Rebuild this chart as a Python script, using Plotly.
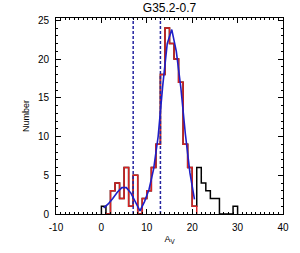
import plotly.graph_objects as go

# Histogram of A_V (bin width 1, starting at 0)
bin_edges = list(range(0, 31))
counts = [1, 0, 3, 4, 2, 6, 1, 5, 0, 2, 3, 6, 9, 18, 24, 22, 20, 17, 9, 6, 1,
          6, 4, 3, 2, 2, 0, 0, 0, 1]
# red (selected) bins: index range
red_first, red_last = 1, 20

# fitted curve (read at bin centres)
fit_x = [0.5, 1.5, 2.5, 3.5, 4.5, 5.5, 6.5, 7.5, 8.5, 9.5, 10.5, 11.5, 12.5,
         13.5, 14.5, 15.5, 16.5, 17.5, 18.5, 19.5, 20.5]
fit_y = [0.8, 1.3, 2.0, 2.8, 3.4, 3.4, 2.7, 1.6, 0.4, 1.6, 3.2, 5.8, 10.0,
         16.5, 22.0, 23.8, 21.0, 16.3, 10.3, 5.3, 1.9]

# vertical dashed limits
vlines = [7.0, 13.0]

x_tickvals = [-10, 0, 10, 20, 30, 40]
x_ticktext = ["-10", "0", "10", "20", "30", "40"]
y_tickvals = [0, 5, 10, 15, 20, 25]

title = "G35.2-0.7"
xlabel = "A<sub>V</sub>"
ylabel = "Number"


def step_path(edges, vals):
    xs = [edges[0]] + list(edges[:-1]) + [edges[-1]]
    ys = [0] + list(vals) + [0]
    return xs, ys


fig = go.Figure()

bx, by = step_path(bin_edges, counts)
fig.add_trace(go.Scatter(x=bx, y=by, mode="lines", line_shape="hv",
                         line=dict(color="black", width=1.5), hoverinfo="skip"))

rx, ry = step_path(bin_edges[red_first:red_last + 2], counts[red_first:red_last + 1])
fig.add_trace(go.Scatter(x=rx, y=ry, mode="lines", line_shape="hv",
                         line=dict(color="rgb(215,35,35)", width=1.5), hoverinfo="skip"))

for v in vlines:
    fig.add_trace(go.Scatter(x=[v, v], y=[0, 25.3], mode="lines",
                             line=dict(color="rgb(35,35,160)", width=1.5, dash="3px,2px"),
                             hoverinfo="skip"))

fig.add_trace(go.Scatter(x=fit_x, y=fit_y, mode="lines",
                         line=dict(color="rgb(30,30,200)", width=1.6), hoverinfo="skip"))

font = dict(family="Liberation Sans, Arial, sans-serif", color="black")

fig.update_layout(
    width=300, height=253,
    margin=dict(l=56, r=17, t=18, b=39),
    paper_bgcolor="white", plot_bgcolor="white",
    showlegend=False,
    title=dict(text=title, x=0.565, xanchor="center", y=0.985, yanchor="top",
               font=dict(size=12, **font)),
    xaxis=dict(range=[-10, 40], tickmode="array", tickvals=x_tickvals, ticktext=x_ticktext,
               ticks="inside", ticklen=5, tickwidth=1, tickcolor="black",
               minor=dict(ticks="inside", dtick=1, ticklen=2, tickcolor="black"),
               showline=True, linecolor="black", linewidth=1, mirror="ticks",
               showgrid=False, zeroline=False, ticklabelstandoff=4,
               tickfont=dict(size=10, **font),
               title=dict(text=xlabel, font=dict(size=9, **font), standoff=3)),
    yaxis=dict(range=[0, 25.3], tickmode="array", tickvals=y_tickvals,
               ticks="inside", ticklen=5, tickwidth=1, tickcolor="black",
               minor=dict(ticks="inside", dtick=1, ticklen=2, tickcolor="black"),
               showline=True, linecolor="black", linewidth=1, mirror="ticks",
               showgrid=False, zeroline=False, ticklabelstandoff=4,
               tickfont=dict(size=10, **font),
               title=dict(text=ylabel, font=dict(size=9, **font), standoff=6)),
)

fig.write_html("out.html", config={"displayModeBar": False},
               post_script="document.body.style.margin='0';document.body.style.overflow='hidden';")
